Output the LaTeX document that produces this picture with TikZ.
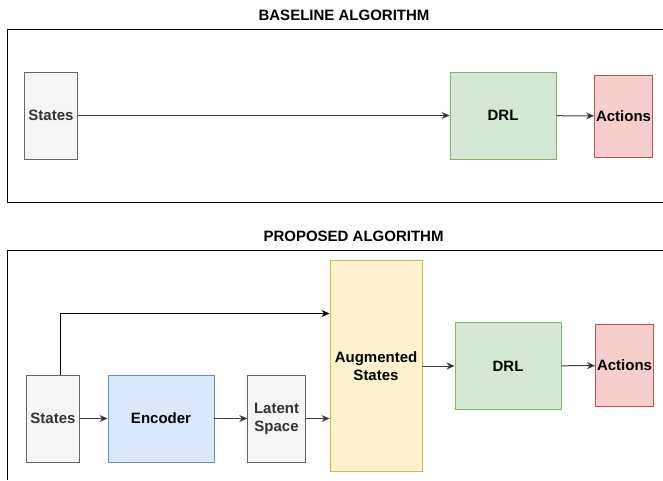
\documentclass[tikz,border=0pt]{standalone}
\usepackage{fontspec}
\setmainfont{Liberation Sans}
\usetikzlibrary{arrows.meta}
\definecolor{grayfill}{HTML}{F5F5F5}
\definecolor{graydraw}{HTML}{666666}
\definecolor{graytext}{HTML}{333333}
\definecolor{greenfill}{HTML}{D5E8D4}
\definecolor{greendraw}{HTML}{82B366}
\definecolor{redfill}{HTML}{F8CECC}
\definecolor{reddraw}{HTML}{B85450}
\definecolor{bluefill}{HTML}{DAE8FC}
\definecolor{bluedraw}{HTML}{6C8EBF}
\definecolor{yellowfill}{HTML}{FFF2CC}
\definecolor{yellowdraw}{HTML}{D6B656}
\tikzset{
  box/.style={rectangle, inner sep=0pt, line width=0.9pt, align=center,
    font=\fontsize{15}{18}\selectfont\bfseries},
  graybox/.style={box, fill=grayfill, draw=graydraw, text=graytext},
  greenbox/.style={box, fill=greenfill, draw=greendraw},
  redbox/.style={box, fill=redfill, draw=reddraw},
  bluebox/.style={box, fill=bluefill, draw=bluedraw},
  yellowbox/.style={box, fill=yellowfill, draw=yellowdraw},
  arr/.style={line width=1pt, draw=black!75,
    -{Stealth[length=8pt, width=7pt, inset=2.5pt, fill=black]}},
  frame/.style={line width=0.9pt, draw=black},
  heading/.style={font=\fontsize{15}{18}\selectfont\bfseries}
}
\begin{document}
\begin{tikzpicture}[x=1pt, y=-1pt]
\useasboundingbox (0,0) rectangle (663,480);
\fill[white] (0,0) rectangle (663,480);

% baseline pipeline
\node[heading] (titleA) at (344,15) {BASELINE ALGORITHM};
\draw[frame] (663,29) -- (7.5,29) -- (7.5,202) -- (663,202);
\node[graybox, minimum width=53pt, minimum height=87pt] (sA) at (51,115.5) {States};
\node[greenbox, minimum width=106pt, minimum height=87pt] (drlA) at (503,115.5) {DRL};
\node[redbox, minimum width=58pt, minimum height=82pt] (actA) at (623.5,116) {Actions};
\draw[arr] (sA) -- (drlA);
\draw[arr] (drlA) -- (actA);

% proposed pipeline
\node[heading] (titleB) at (353.5,236) {PROPOSED ALGORITHM};
\draw[frame] (663,250.5) -- (7.5,250.5) -- (7.5,480);
\node[graybox, minimum width=53pt, minimum height=87pt] (sB) at (53,418.5) {States};
\node[bluebox, minimum width=106pt, minimum height=87pt] (enc) at (161,418.5) {Encoder};
\node[graybox, minimum width=57.5pt, minimum height=87pt] (lat) at (276.5,418.5) {Latent\\Space};
\node[yellowbox, minimum width=92pt, minimum height=211pt] (aug) at (376,366) {Augmented\\States};
\node[greenbox, minimum width=106pt, minimum height=87pt] (drlB) at (508,366) {DRL};
\node[redbox, minimum width=58pt, minimum height=82pt] (actB) at (624.5,365.5) {Actions};
\draw[arr] (sB) -- (enc);
\draw[arr] (enc) -- (lat);
\draw[arr] (lat.east) -- (aug.west |- lat.east);
\draw[arr] (aug) -- (drlB);
\draw[arr] (drlB) -- (actB);
% skip connection: raw states go straight into the augmented states
\draw[arr, draw=black] ([xshift=7.5pt]sB.north) |- ([yshift=52.5pt]aug.west);
\end{tikzpicture}
\end{document}
